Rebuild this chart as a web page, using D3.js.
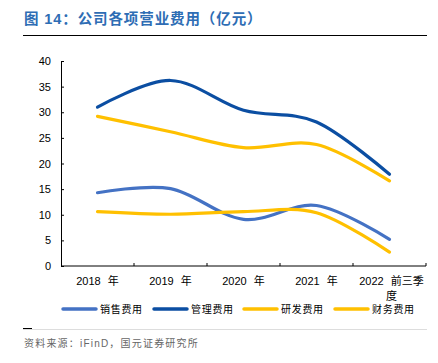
<!DOCTYPE html>
<html>
<head>
<meta charset="utf-8">
<script src="https://cdn.jsdelivr.net/npm/d3@7"></script>
<style>
  body { margin: 0; background: #fff; }
  text { font-family: "Liberation Sans", "Noto Sans CJK SC", sans-serif; }
</style>
</head>
<body>
<svg id="chart" width="438" height="363"></svg>
<script>

// categories and series (亿元)
const categories = ["2018 年", "2019 年", "2020 年", "2021 年", "2022 前三季度"];
const sales   = [14.3, 15.1, 9.1, 11.8, 5.2];
const admin   = [31.0, 36.2, 30.4, 28.1, 17.9];
const rnd     = [29.2, 26.2, 23.1, 23.7, 16.6];
const finance = [10.6, 10.1, 10.6, 10.4, 2.7];
const yTicks  = [0, 5, 10, 15, 20, 25, 30, 35, 40];

const series = [
  { name: "销售费用", values: sales,   color: "#4472C4" },
  { name: "管理费用", values: admin,   color: "#0B4EA2" },
  { name: "研发费用", values: rnd,     color: "#FFC000" },
  { name: "财务费用", values: finance, color: "#FFC000" }
];

const svg = d3.select("#chart");

// Dimensions of the plot area:
const X0 = 61, X1 = 426, Y0 = 266, Y1 = 61;

// title
svg.append("text")
    .attr("x", 24).attr("y", 24)
    .attr("font-size", 14.5)
    .attr("font-weight", "bold")
    .attr("fill", "#2E6DB4")
    .attr("letter-spacing", 0.9)
    .attr("font-family", "'Noto Sans CJK SC', sans-serif")
    .text("图 14：公司各项营业费用（亿元）");

svg.append("line")
    .attr("x1", 23).attr("x2", 427).attr("y1", 35.5).attr("y2", 35.5)
    .attr("stroke", "#000").attr("stroke-width", 1);

let x = d3.scaleBand().domain(categories).range([X0, X1]);
let y = d3.scaleLinear().domain([0, 40]).range([Y0, Y1]);

// y axis
let yAxis = svg.append("g")
    .attr("transform", "translate(" + X0 + ",0)")
    .call(d3.axisLeft(y).tickValues(yTicks).tickSize(-3).tickPadding(10));
yAxis.select(".domain").attr("stroke", "#000");
yAxis.selectAll("text").attr("font-size", 11).attr("fill", "#000")
    .attr("font-family", "'Liberation Sans', sans-serif");

// x axis: ticks between bands
let xAxis = svg.append("g")
    .attr("transform", "translate(0," + Y0 + ")");
xAxis.append("line")
    .attr("x1", X0).attr("x2", X1).attr("stroke", "#000");
xAxis.selectAll("line.tick")
    .data(categories.slice(1).concat(["end"]))
    .enter()
    .append("line")
        .attr("class", "tick")
        .attr("x1", (d, i) => X0 + x.step() * (i + 1))
        .attr("x2", (d, i) => X0 + x.step() * (i + 1))
        .attr("y1", -3).attr("y2", 0)
        .attr("stroke", "#000");

xAxis.selectAll("text")
    .data(categories)
    .enter()
    .append("text")
        .attr("x", d => x(d) + x.bandwidth() / 2)
        .attr("y", 19)
        .attr("text-anchor", "middle")
        .attr("font-size", 11)
        .attr("fill", "#000")
        .attr("word-spacing", 4)
        .each(function (d) {
          let t = d3.select(this);
          if (d.length > 6) {
            t.append("tspan").attr("x", x(d) + x.bandwidth() / 2 + 2).text("2022 前三季");
            t.append("tspan").attr("x", x(d) + x.bandwidth() / 2 + 2).attr("dy", 15).text("度");
          } else {
            t.text(d);
          }
        });

// lines, drawn smooth like the spreadsheet original
let line = d3.line()
    .x((d, i) => x(categories[i]) + x.bandwidth() / 2)
    .y(d => y(d))
    .curve(d3.curveCardinal.tension(0));

svg.append("g")
    .selectAll("path")
    .data(series)
    .enter()
    .append("path")
        .attr("d", d => line(d.values))
        .attr("fill", "none")
        .attr("stroke", d => d.color)
        .attr("stroke-width", 3.2)
        .attr("stroke-linecap", "round");

// legend
const legendX = [63, 154, 244, 335];
let legend = svg.append("g").attr("transform", "translate(0,309)");
let items = legend.selectAll("g")
    .data(series)
    .enter()
    .append("g")
        .attr("transform", (d, i) => "translate(" + legendX[i] + ",0)");
items.append("line")
    .attr("x1", 0).attr("x2", 33).attr("y1", 0).attr("y2", 0)
    .attr("stroke", d => d.color)
    .attr("stroke-width", 3.5)
    .attr("stroke-linecap", "round");
items.append("text")
    .attr("x", 37).attr("y", 4)
    .attr("font-size", 10)
    .attr("fill", "#000")
    .attr("letter-spacing", 0.7)
    .text(d => d.name);

// footer
svg.append("line")
    .attr("x1", 23).attr("x2", 427).attr("y1", 329.5).attr("y2", 329.5)
    .attr("stroke", "#ddd");
svg.append("line")
    .attr("x1", 23).attr("x2", 32).attr("y1", 328.5).attr("y2", 328.5)
    .attr("stroke", "#000");
svg.append("text")
    .attr("x", 24).attr("y", 347)
    .attr("font-size", 10)
    .attr("fill", "#666")
    .attr("letter-spacing", 1.2)
    .text("资料来源：iFinD，国元证券研究所");

</script>
</body>
</html>
